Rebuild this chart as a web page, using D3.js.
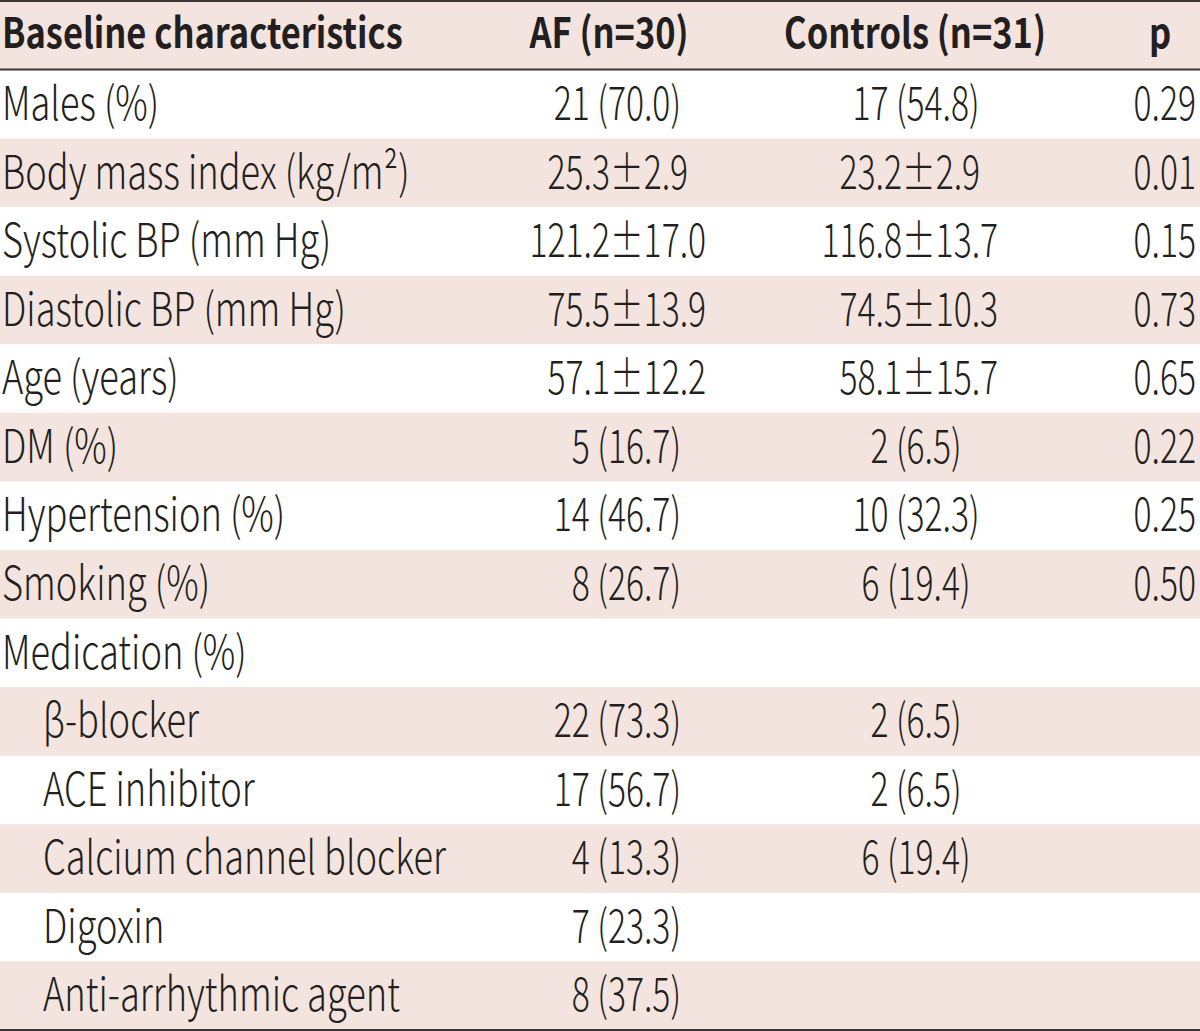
<!DOCTYPE html>
<html><head><meta charset="utf-8">
<script src="https://cdn.jsdelivr.net/npm/d3@7"></script>
<style>body{margin:0;background:#fff}svg{display:block}</style>
</head><body>
<svg id="chart" width="1200" height="1031"></svg>
<script>
// ---- data ----
const columns = ["Baseline characteristics", "AF (n=30)", "Controls (n=31)", "p"];
const characteristics = [
  "Males (%)", "Body mass index (kg/m²)", "Systolic BP (mm Hg)", "Diastolic BP (mm Hg)",
  "Age (years)", "DM (%)", "Hypertension (%)", "Smoking (%)", "Medication (%)",
  "β-blocker", "ACE inhibitor", "Calcium channel blocker", "Digoxin", "Anti-arrhythmic agent"
];
const subItem = [false,false,false,false,false,false,false,false,false,true,true,true,true,true];
const afValues = [
  "21 (70.0)", "25.3±2.9", "121.2±17.0", "75.5±13.9", "57.1±12.2", "5 (16.7)", "14 (46.7)",
  "8 (26.7)", "", "22 (73.3)", "17 (56.7)", "4 (13.3)", "7 (23.3)", "8 (37.5)"
];
const controlValues = [
  "17 (54.8)", "23.2±2.9", "116.8±13.7", "74.5±10.3", "58.1±15.7", "2 (6.5)", "10 (32.3)",
  "6 (19.4)", "", "2 (6.5)", "2 (6.5)", "6 (19.4)", "", ""
];
const pValues = [
  "0.29", "0.01", "0.15", "0.73", "0.65", "0.22", "0.25", "0.50", "", "", "", "", "", ""
];

// ---- style / layout ----
const W = 1200, H = 1031;
const shade = "#f3e4df", ink = "#231f20", rule = "#3b3435";
const bodyFont = "'Noto Sans CJK KR','Noto Sans',sans-serif";
const bodySize = 46, headSize = 42, bodyWeight = 300;

const svg = d3.select("#chart");
const y = d3.scaleBand().domain(d3.range(characteristics.length)).range([70, 1030]).padding(0);

function draw() {
  // backgrounds
  svg.append("rect").attr("x", 0).attr("y", 0).attr("width", W).attr("height", 70).attr("fill", shade);
  svg.selectAll("rect.row").data(characteristics).enter().append("rect")
    .attr("class", "row").attr("x", 0).attr("y", (d, i) => y(i))
    .attr("width", W).attr("height", y.bandwidth() + 0.5)
    .attr("fill", (d, i) => i % 2 === 1 ? shade : "#fff");

  // rules
  [[1, 2], [69.5, 2], [1030, 2]].forEach(([yy, w]) => {
    svg.append("line").attr("x1", 0).attr("x2", W).attr("y1", yy).attr("y2", yy)
      .attr("stroke", rule).attr("stroke-width", w);
  });

  // calibration of horizontal condensing
  function measure(str, size, weight) {
    const t = svg.append("text").attr("font-family", bodyFont).attr("font-size", size)
      .attr("font-weight", weight).text(str);
    const w = t.node().getComputedTextLength();
    t.remove();
    return w;
  }
  const sxLabel = 357 / measure("Anti-arrhythmic agent", bodySize, bodyWeight);
  const sxNum = 176.7 / measure("121.2±17.0", bodySize, bodyWeight);
  const sxHead = 401 / measure("Baseline characteristics", headSize, 700);

  function put(str, x, yy, opts) {
    const o = Object.assign({size: bodySize, weight: bodyWeight, sx: sxNum, anchor: "start", alignChar: null}, opts);
    const t = svg.append("text")
      .attr("font-family", bodyFont).attr("font-size", o.size).attr("font-weight", o.weight)
      .attr("fill", ink).attr("text-anchor", o.anchor).text(str);
    let x0 = x;
    if (o.alignChar) {
      const idx = str.indexOf(o.alignChar);
      const sub = idx > 0 ? t.node().getSubStringLength(0, idx) : 0;
      x0 = x - sub * o.sx;
    }
    t.attr("transform", `translate(${x0},${yy}) scale(${o.sx},1)`);
    return t;
  }

  // header
  const headBase = 48;
  put(columns[0], 2, headBase, {size: headSize, weight: 700, sx: sxHead});
  put(columns[1], 609, headBase, {size: headSize, weight: 700, sx: sxHead, anchor: "middle"});
  put(columns[2], 915, headBase, {size: headSize, weight: 700, sx: sxHead, anchor: "middle"});
  put(columns[3], 1160, headBase, {size: headSize, weight: 700, sx: sxHead, anchor: "middle"});

  const baseOff = 50;
  characteristics.forEach((lab, i) => {
    const by = y(i) + baseOff;
    put(lab, subItem[i] ? 43 : 2, by, {sx: sxLabel});
    const a = afValues[i];
    if (a) {
      if (a.includes("±")) put(a, 610, by, {alignChar: "±"});
      else put(a, 681, by, {anchor: "end"});
    }
    const c = controlValues[i];
    if (c) {
      if (c.includes("±")) put(c, 902, by, {alignChar: "±"});
      else put(c, 916, by, {anchor: "middle"});
    }
    const p = pValues[i];
    if (p) put(p, 1196, by, {anchor: "end"});
  });
}
if (document.fonts && document.fonts.ready) document.fonts.ready.then(draw); else draw();
</script>
</body></html>
